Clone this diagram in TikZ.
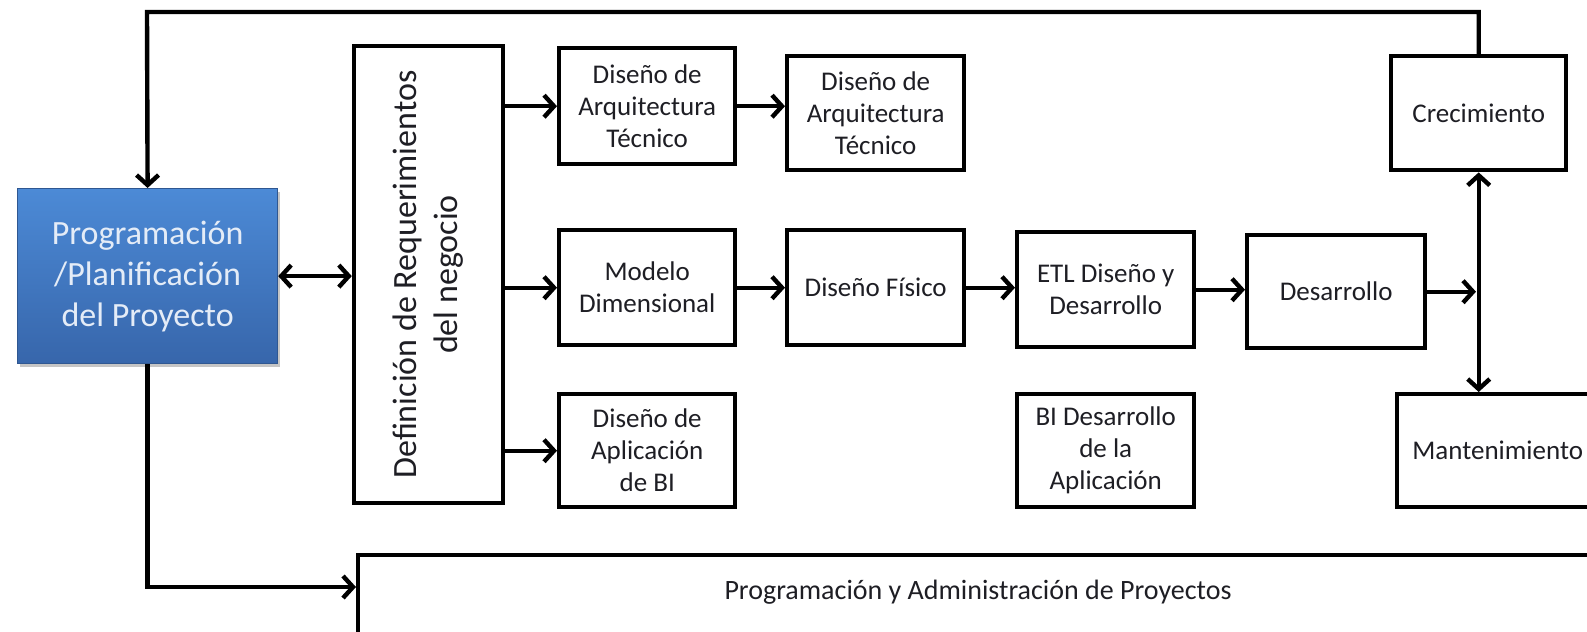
\documentclass[tikz,border=0pt]{standalone}
\usepackage{fontspec}
\setmainfont{Carlito}
\usetikzlibrary{arrows.meta,shadows}
\definecolor{bluetop}{HTML}{4C8AD6}
\definecolor{bluebot}{HTML}{3766AB}
\definecolor{bluetext}{HTML}{E4ECF7}
\definecolor{ink}{HTML}{1E1E24}
\begin{document}
\begin{tikzpicture}[x=0.5pt,y=-0.5pt,
  box/.style={draw=black, line width=2.2pt, fill=white, align=center, text=ink,
    font=\fontsize{13.5pt}{16pt}\selectfont, inner sep=2pt, anchor=north west},
  conn/.style={line width=2.2pt, -{Straight Barb[length=5pt,width=11pt]}},
  dconn/.style={line width=2.2pt, {Straight Barb[length=5pt,width=11pt]}-{Straight Barb[length=5pt,width=11pt]}},
  bigtext/.style={font=\fontsize{17pt}{20.5pt}\selectfont}
]
\useasboundingbox (0,0) rectangle (1587,632);
\clip (0,0) rectangle (1587,632);

% main blue node
\node[anchor=north west, minimum width=130pt, minimum height=87.5pt,
  top color=bluetop, bottom color=bluebot, draw=bluebot!85!black, line width=0.6pt,
  drop shadow={shadow xshift=1.2pt, shadow yshift=-1.8pt, fill=black!45},
  text=bluetext, bigtext, align=center] (plan) at (17,188)
  {Programación\\/Planificación\\del Proyecto};

% requirements box (rotated)
\node[box, anchor=center, rotate=90, minimum width=228.5pt, minimum height=74.5pt,
  bigtext] (def) at (428.5,274.5) {Definición de Requerimientos\\del negocio};

% upper row
\node[box, minimum width=88pt, minimum height=58pt] (a1) at (557,46) {Diseño de\\Arquitectura\\Técnico};
\node[box, minimum width=88.5pt, minimum height=57pt] (a2) at (785,54) {Diseño de\\Arquitectura\\Técnico};

% middle row
\node[box, minimum width=88pt, minimum height=57.5pt] (md) at (557,228) {Modelo\\Dimensional};
\node[box, minimum width=88.5pt, minimum height=57.5pt] (df) at (785,228) {Diseño Físico};
\node[box, minimum width=88.5pt, minimum height=57.5pt] (etl) at (1015,230) {ETL Diseño y\\Desarrollo};
\node[box, minimum width=89pt, minimum height=56.5pt] (des) at (1245,233) {Desarrollo};

% lower row
\node[box, minimum width=88pt, minimum height=56.5pt] (da) at (557,392) {Diseño de\\Aplicación\\de BI};
\node[box, minimum width=88.5pt, minimum height=56.5pt] (bi) at (1015,392) {BI Desarrollo\\de la\\Aplicación};

% right column
\node[box, minimum width=87.5pt, minimum height=57pt] (cre) at (1389,54) {Crecimiento};
\node[box, minimum width=100.5pt, minimum height=56.5pt] (man) at (1395,392) {Mantenimiento};

% bottom bar
\node[box, minimum width=622pt, minimum height=45pt] (pm) at (356,553) {};
\node[text=ink, font=\fontsize{14pt}{16pt}\selectfont] (pmt) at (978,592)
  {Programación y Administración de Proyectos};
\coordinate (pmin) at (356,587);

% connectors
\coordinate (top) at (147,12);
\draw[conn] (cre.north) |- (top) -- (plan.north);
\draw[dconn] (plan.east) -- (plan.east -| def.north);
\draw[conn] (def.south |- a1.west) -- (a1.west);
\draw[conn] (def.south |- md.west) -- (md.west);
\draw[conn] (def.south |- da.west) -- (da.west);
\draw[conn] (a1.east) -- (a1.east -| a2.west);
\draw[conn] (md.east) -- (md.east -| df.west);
\draw[conn] (df.east) -- (df.east -| etl.west);
\draw[conn] (etl.east) -- (etl.east -| des.west);
\coordinate (jn) at (1476,285);
\draw[conn] (des.east) -- (des.east -| jn);
\draw[dconn] (cre.south) -- (cre.south |- man.north);
\draw[conn] (plan.south) |- (pmin);
\end{tikzpicture}
\end{document}
